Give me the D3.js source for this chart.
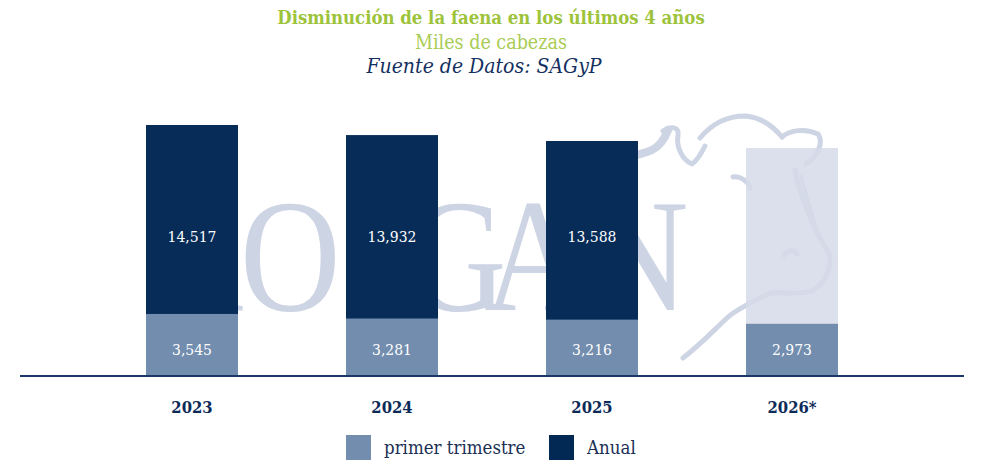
<!DOCTYPE html>
<html>
 <head>
 <meta charset="utf-8">
 <title>Disminución de la faena</title>
<style>
 body{ margin:0; background:#fff; }
 svg text{ font-family:'DejaVu Serif Condensed','DejaVu Serif',serif; }
</style>
<script src="https://cdnjs.cloudflare.com/ajax/libs/d3/7.8.5/d3.min.js"></script>
 </head>
 <body>
   <div id="plot"></div>

<script>
  // datos (miles de cabezas)
  var years = ["2023", "2024", "2025", "2026"];
  var yearLabels = ["2023", "2024", "2025", "2026*"];
  var anual = [14517, 13932, 13588, 13180];        // 2026 sin rotulo (proyeccion)
  var anualLabels = ["14,517", "13,932", "13,588", ""];
  var trimestre = [3545, 3281, 3216, 2973];
  var trimestreLabels = ["3,545", "3,281", "3,216", "2,973"];
  var seriesNames = ["primer trimestre", "Anual"];

  var w = 981, h = 471;
  var base = 375;

  var navy = "#022954", steel = "#728dae", pale = "#d5dbe9", mark = "#cdd4e3";

  var svg = d3.select("#plot").append("svg")
      .attr("width", w)
      .attr("height", h);

  var x = d3.scaleBand()
      .domain(years)
      .range([92, 892])
      .paddingInner(0.54)
      .paddingOuter(0.27);

  var y = d3.scaleLinear()
      .domain([0, 14517])
      .range([base, 125]);

  // titulos
  svg.append("text").attr("x", 491).attr("y", 24).attr("text-anchor", "middle")
     .attr("font-weight", "bold").attr("font-size", 18.4).attr("fill", "#9dc33b")
     .text("Disminución de la faena en los últimos 4 años");
  svg.append("text").attr("x", 491).attr("y", 49).attr("text-anchor", "middle")
     .attr("font-size", 19.5).attr("fill", "#a9cc55")
     .text("Miles de cabezas");
  svg.append("text").attr("x", 484).attr("y", 73).attr("text-anchor", "middle")
     .attr("font-size", 21).attr("font-style", "italic").attr("fill", "#14305e")
     .text("Fuente de Datos: SAGyP");

  // marca de agua (detras de las barras)
  var sx = 0.87;
  var wm = svg.append("g").attr("class", "watermark");
  wm.append("text")
     .attr("transform", "scale(" + sx + ",1)")
     .attr("x", [150, 240, 343, 406, 484, 588].map(function(v) { return v / sx; }).join(" "))
     .attr("y", 310)
     .style("font-family", "'Liberation Serif', serif")
     .attr("font-size", 160).attr("fill", mark)
     .text("ROSGAN");
  var cow = [
    "M592,168 C615,160 638,156 652,150 C660,146 665,138 668,130",
    "M663,131 C670,126 680,126 678,136 C676,146 682,160 692,164 C698,160 702,152 705,146",
    "M700,138 C710,126 725,116 745,116 C760,117 772,125 782,137",
    "M782,137 C790,130 805,128 818,134 C824,142 818,156 806,164",
    "M795,170 C800,195 812,225 828,252 C833,262 828,282 812,291 C800,295 785,292 770,293",
    "M801,176 C806,195 812,212 816,228",
    "M770,293 C752,302 735,310 727,318 C712,332 700,345 683,358",
    "M784,255 C787,250 795,249 797,254",
    "M733,177 C740,176 748,181 750,188"
  ];
  wm.selectAll("path").data(cow).enter().append("path")
     .attr("d", function(d) { return d; })
     .attr("fill", "none")
     .attr("stroke", mark)
     .attr("stroke-width", function(d, i) { return i == 0 ? 8 : (i == 5 ? 3 : 5); })
     .attr("stroke-linecap", "round")
     .attr("stroke-linejoin", "round");

  // barras anuales
  svg.selectAll("rect.anual")
     .data(anual).enter().append("rect")
     .attr("class", "anual")
     .attr("x", function(d, i) { return x(years[i]); })
     .attr("y", function(d) { return y(d); })
     .attr("width", x.bandwidth())
     .attr("height", function(d) { return base - y(d); })
     .attr("fill", function(d, i) { return i == 3 ? pale : navy; })
     .attr("fill-opacity", function(d, i) { return i == 3 ? 0.85 : 0.985; });

  // barras primer trimestre
  svg.selectAll("rect.trim")
     .data(trimestre).enter().append("rect")
     .attr("class", "trim")
     .attr("x", function(d, i) { return x(years[i]); })
     .attr("y", function(d) { return y(d); })
     .attr("width", x.bandwidth())
     .attr("height", function(d) { return base - y(d); })
     .attr("fill", steel);

  // rotulos
  svg.selectAll("text.lab-anual")
     .data(anualLabels).enter().append("text")
     .attr("class", "lab-anual")
     .attr("x", function(d, i) { return x(years[i]) + x.bandwidth() / 2; })
     .attr("y", base - 138)
     .attr("dy", "0.35em")
     .attr("text-anchor", "middle")
     .attr("font-size", 15.5)
     .attr("fill", "#fff")
     .text(function(d) { return d; });

  svg.selectAll("text.lab-trim")
     .data(trimestreLabels).enter().append("text")
     .attr("class", "lab-trim")
     .attr("x", function(d, i) { return x(years[i]) + x.bandwidth() / 2; })
     .attr("y", base - 25)
     .attr("dy", "0.35em")
     .attr("text-anchor", "middle")
     .attr("font-size", 15.5)
     .attr("fill", "#fff")
     .text(function(d) { return d; });

  // eje
  svg.append("line")
     .attr("x1", 20).attr("x2", 964)
     .attr("y1", base + 1).attr("y2", base + 1)
     .attr("stroke", "#1b3765").attr("stroke-width", 2);

  var axis = svg.append("g")
     .attr("transform", "translate(0," + (base + 1) + ")")
     .call(d3.axisBottom(x).tickSize(0).tickPadding(25)
        .tickFormat(function(d, i) { return yearLabels[i]; }));
  axis.select(".domain").remove();
  axis.selectAll("text")
     .style("font-family", "'DejaVu Serif Condensed','DejaVu Serif',serif")
     .attr("font-size", 16.5)
     .attr("font-weight", "bold")
     .attr("fill", "#0d2b58");

  // leyenda
  var leg = svg.selectAll("g.leg")
     .data(seriesNames).enter().append("g")
     .attr("class", "leg")
     .attr("transform", function(d, i) { return "translate(" + [346, 549][i] + ",435)"; });
  leg.append("rect")
     .attr("width", 25).attr("height", 25)
     .attr("fill", function(d, i) { return i == 0 ? steel : navy; });
  leg.append("text")
     .attr("x", 38).attr("y", 13).attr("dy", "0.35em")
     .attr("font-size", 18.5)
     .attr("fill", "#1b2f55")
     .text(function(d) { return d; });
</script>
 </body>
</html>
